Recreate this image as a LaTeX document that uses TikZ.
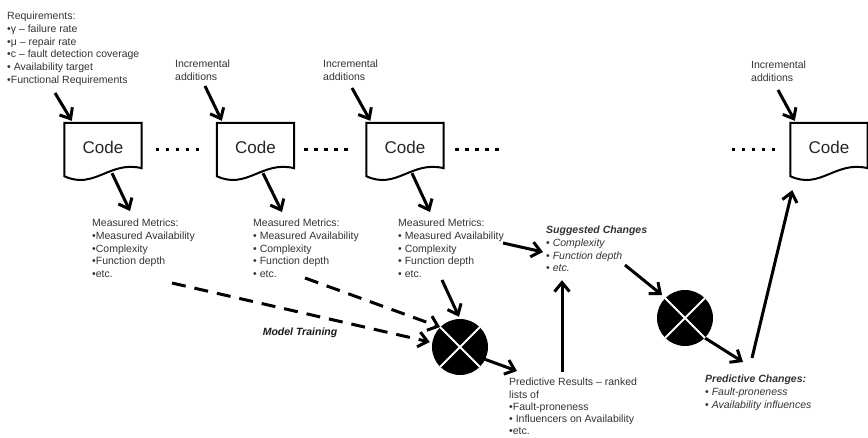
\documentclass[tikz,border=0pt]{standalone}
\usepackage{fontspec}
\setmainfont{Liberation Sans}
\usetikzlibrary{arrows.meta,calc}
\begin{document}
\begin{tikzpicture}[x=1pt,y=-1pt,
  txt/.style={font=\fontsize{10.5}{12.7}\selectfont, text=black!80, align=left, inner sep=0pt, anchor=north west},
  title/.style={font=\fontsize{10.5}{12.7}\selectfont\bfseries\itshape, text=black!90, inner sep=0pt},
  codebox/.style={minimum width=77pt, minimum height=53pt, inner sep=0pt, font=\fontsize{17}{20}\selectfont, text=black!85},
  docline/.style={draw=black, line width=2pt, line join=miter, fill=white},
  arr/.style={line width=3pt, -{Straight Barb[length=9pt,width=15pt]}},
  darr/.style={arr, dash pattern=on 14pt off 9pt},
  dots/.style={line width=3.5pt, dash pattern=on 3.5pt off 6.5pt},
  mixer/.style={circle, fill=black, minimum size=56pt, inner sep=0pt},
  cross/.style={draw=white, line width=2pt}]

\fill[white] (0,0) rectangle (868,437);
\useasboundingbox (0,0) rectangle (868,437);

% code snapshots (document shapes)
\node[codebox] (c1) at (103,149.5) {};
\node[codebox] (c2) at (255.5,149.5) {};
\node[codebox] (c3) at (405,149.5) {};
\node[codebox] (c4) at (829,149.5) {};
\foreach \c in {c1,c2,c3,c4}{
  \draw[docline] (\c.south west) -- (\c.north west) -- (\c.north east)
    -- ($(\c.south east)+(0,-8)$)
    .. controls +(-32,-8) and +(30,14) .. (\c.south west) -- cycle;
  \node[codebox] at ($(\c)+(0,-2)$) {Code};
}

% ellipses between snapshots
\draw[dots] ($(c1.east)+(14,0)$) -- +(44,0);
\draw[dots] ($(c2.east)+(10,0)$) -- +(44,0);
\draw[dots] ($(c3.east)+(11.5,0)$) -- +(44,0);
\draw[dots] ($(c4.west)+(-58.5,0)$) -- +(44,0);

% text blocks
\node[txt] (req) at (7,12) {Requirements:\\
  •γ – failure rate\\
  •μ – repair rate\\
  •c – fault detection coverage\\
  • Availability target\\
  •Functional Requirements};
\node[txt] (inc1) at (175,60) {Incremental\\additions};
\node[txt] (inc2) at (323,60) {Incremental\\additions};
\node[txt] (inc3) at (751,61) {Incremental\\additions};

\node[txt] (mm1) at (92,219) {Measured Metrics:\\
  •Measured Availability\\
  •Complexity\\
  •Function depth\\
  •etc.};
\node[txt] (mm2) at (253,219) {Measured Metrics:\\
  • Measured Availability\\
  • Complexity\\
  • Function depth\\
  • etc.};
\node[txt] (mm3) at (398,219) {Measured Metrics:\\
  • Measured Availability\\
  • Complexity\\
  • Function depth\\
  • etc.};

\node[txt] (sugg) at (546,226) {\textbf{\textit{Suggested Changes}}\\
  • \textit{Complexity}\\
  • \textit{Function depth}\\
  • \textit{etc.}};

\node[title] (train) at (300,333) {Model Training};

\node[txt, font=\fontsize{10.5}{12.2}\selectfont] (pres) at (509,378) {Predictive Results – ranked\\
  lists of\\
  •Fault-proneness\\
  • Influencers on Availability\\
  •etc.};

\node[txt] (pchg) at (705,375) {\textbf{\textit{Predictive Changes:}}\\
  • \textit{Fault-proneness}\\
  • \textit{Availability influences}};

% combining operators
\node[mixer] (m1) at (460,347) {};
\node[mixer] (m2) at (685,318) {};

% inputs into the snapshots
\coordinate (r0) at (55,93);
\coordinate (i1) at (205,86);
\coordinate (i2) at (352,88);
\coordinate (i3) at (778,90);
\draw[arr] (r0) -- ($(c1.north west)+(7.5,-2)$);
\draw[arr] (i1) -- ($(c2.north west)+(5,-2)$);
\draw[arr] (i2) -- ($(c3.north west)+(4,-2)$);
\draw[arr] (i3) -- ($(c4.north west)+(4.5,-2)$);

% snapshots to measured metrics
\draw[arr] ($(c1.south)+(9,-3)$) -- ($(mm1.north west)+(38,-8)$);
\draw[arr] ($(c2.south)+(7.5,-3)$) -- ($(mm2.north west)+(29,-7)$);
\draw[arr] ($(c3.south)+(7,-3)$) -- ($(mm3.north west)+(32,-7)$);

% model training inputs
\coordinate (d1) at (172,283);
\coordinate (d2) at (305,278);
\coordinate (s3) at (442,280);
\draw[darr] (d1) -- ($(m1.west)+(-2,-5)$);
\draw[darr] (d2) -- (m1.north west);
\draw[arr] (s3) -- ($(m1.north)+(-1,-2)$);

% changes flow
\coordinate (a3) at (503,243);
\draw[arr] (a3) -- ($(sugg.north west)+(-3,26)$);
\draw[arr] ($(m1.east)+(-4,12)$) -- ($(pres.north west)+(8,-7)$);
\draw[arr] ($(pres.north west)+(53,-6)$) -- ($(sugg.south west)+(16,8)$);
\draw[arr] ($(sugg.north west)+(79,39)$) -- ($(m2.north west)+(-3,-3)$);
\draw[arr] (m2.south east) -- ($(pchg.north west)+(38,-13)$);
\draw[arr] ($(pchg.north west)+(47,-17)$) -- ($(c4.south west)+(2,14)$);

% white cross over the operators
\foreach \m in {m1,m2}{
  \draw[cross] (\m.north west) -- (\m.south east)
               (\m.north east) -- (\m.south west);
}
\end{tikzpicture}
\end{document}
